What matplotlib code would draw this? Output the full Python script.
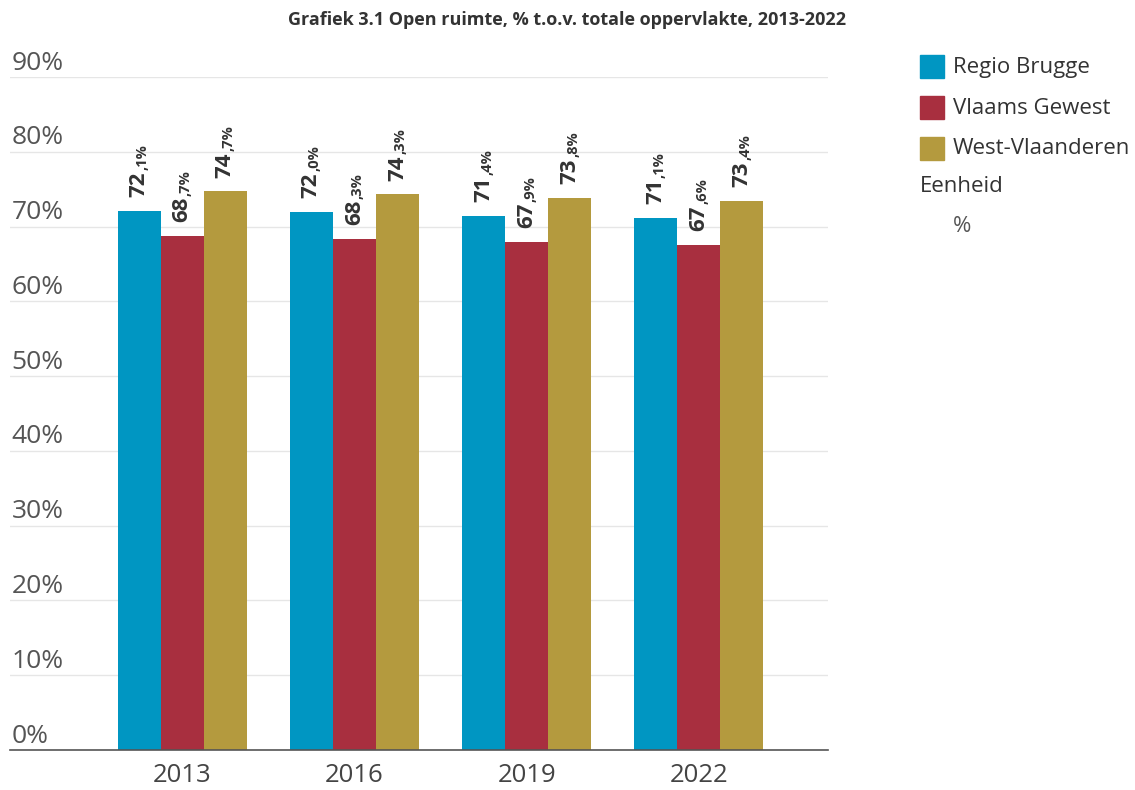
import numpy as np
import matplotlib.pyplot as plt
from matplotlib.patches import Rectangle

plt.rcParams['font.family'] = ['Open Sans', 'DejaVu Sans']

years = ['2013', '2016', '2019', '2022']
series = ['Regio Brugge', 'Vlaams Gewest', 'West-Vlaanderen']
regio_brugge = [72.1, 72.0, 71.4, 71.1]
vlaams_gewest = [68.7, 68.3, 67.9, 67.6]
west_vlaanderen = [74.7, 74.3, 73.8, 73.4]
colors = ['#0096c2', '#a82f3f', '#b49a3e']
yticks = [0, 10, 20, 30, 40, 50, 60, 70, 80, 90]

fig = plt.figure(figsize=(11.35, 7.9), dpi=100)
ax = fig.add_axes([0.0088, 0.0506, 0.7207, 0.8519])

x = np.arange(len(years))
width = 0.25
values = [regio_brugge, vlaams_gewest, west_vlaanderen]

for i, (vals, col) in enumerate(zip(values, colors)):
    pos = x + (i - 1) * width
    ax.bar(pos, vals, width, color=col, zorder=3)
    for px, v in zip(pos, vals):
        whole, dec = f"{v:.1f}".split('.')
        t1 = ax.annotate(whole, xy=(px, v), xytext=(0, 10), textcoords='offset points',
                         rotation=90, ha='center', va='bottom', fontsize=16,
                         fontweight='bold', color='#333333')
        ax.annotate(f",{dec}%", xy=(1.0, 1.0), xycoords=t1, xytext=(0, 1),
                    textcoords='offset points', rotation=90, ha='right', va='bottom',
                    fontsize=10.5, fontweight='bold', color='#333333')

ax.set_xlim(-1.0, 3.75)
ax.set_ylim(0, 90)
ax.set_yticks(yticks)
ax.yaxis.grid(True, color='#e6e6e6', linewidth=1, zorder=0)
ax.set_yticklabels([])
ax.tick_params(axis='y', length=0)
for t in yticks:
    ax.text(0.002, t + 1.0, f"{t}%", transform=ax.get_yaxis_transform(),
            ha='left', va='baseline', fontsize=19, color='#555555')

ax.set_xticks(x)
ax.set_xticklabels(years, fontsize=18.5, color='#444444')
ax.tick_params(axis='x', length=0, pad=9)

for s in ['top', 'right', 'left']:
    ax.spines[s].set_visible(False)
ax.spines['bottom'].set_color('#555555')
ax.spines['bottom'].set_linewidth(1.2)
ax.spines['bottom'].set_zorder(4)

fig.text(0.5, 0.975, 'Grafiek 3.1 Open ruimte, % t.o.v. totale oppervlakte, 2013-2022',
         ha='center', va='center', fontsize=13, fontweight='bold', color='#333333')

# legend
W, H = 1135, 790
for i, (name, col) in enumerate(zip(series, colors)):
    top = 55 + i * 41
    fig.patches.append(Rectangle((920 / W, 1 - (top + 23) / H), 24 / W, 23 / H,
                                 transform=fig.transFigure, color=col))
    fig.text(953 / W, 1 - (top + 12) / H, name, ha='left', va='center',
             fontsize=16, color='#333333')
fig.text(920 / W, 1 - 186 / H, 'Eenheid', ha='left', va='center',
         fontsize=16, color='#333333')
fig.text(953 / W, 1 - 227 / H, '%', ha='left', va='center',
         fontsize=16, color='#555555')

fig.savefig('out.png', dpi=100)
